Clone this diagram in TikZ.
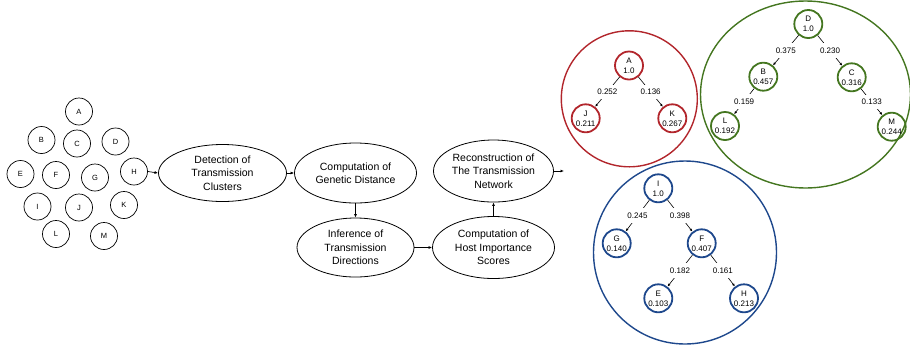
\documentclass[tikz,border=0pt]{standalone}
\usepackage{fontspec}
\setmainfont{Liberation Sans}
\usetikzlibrary{shapes.geometric,arrows.meta,positioning,calc}
\definecolor{clRed}{RGB}{178,38,44}
\definecolor{clGreen}{RGB}{68,118,32}
\definecolor{clBlue}{RGB}{30,72,140}
\tikzset{
	host/.style={draw,circle,line width=0.7pt,minimum size=27pt,inner sep=0pt,font=\fontsize{7.5}{9}\selectfont},
	stage/.style={draw,ellipse,line width=0.8pt,align=center,inner sep=0pt,font=\fontsize{10.5}{13.5}\selectfont},
	flow/.style={-{Latex[length=3.5pt,width=3pt]},line width=0.7pt},
	score/.style={draw=#1,circle,line width=1.8pt,minimum size=28pt,inner sep=0pt,align=center,font=\fontsize{8}{10}\selectfont},
	cluster/.style={draw=#1,line width=1.4pt,inner sep=0pt},
	dir/.style={-{Latex[length=3pt,width=2.6pt]},line width=0.6pt},
	wt/.style={fill=white,inner xsep=1pt,inner ysep=4.5pt,font=\fontsize{8}{10}\selectfont},
}
\begin{document}
\begin{tikzpicture}[x=1pt,y=-1pt]
	\useasboundingbox (0,0) rectangle (910,349);
	% hosts before clustering
	\node (hA) at (79,111.5) [host] {A};
	\node (hB) at (41.5,140) [host] {B};
	\node (hC) at (77,143.5) [host] {C};
	\node (hD) at (115.5,141.5) [host] {D};
	\node (hE) at (20.5,174) [host] {E};
	\node (hF) at (56,175) [host] {F};
	\node (hG) at (95,177.5) [host] {G};
	\node (hH) at (134,171.5) [host] {H};
	\node (hI) at (37.5,206.5) [host] {I};
	\node (hJ) at (79,207.5) [host] {J};
	\node (hK) at (124,205) [host] {K};
	\node (hL) at (56,234) [host] {L};
	\node (hM) at (104,236) [host] {M};
	
	% pipeline
	\node (detect) at (222.5,173) [stage,minimum width=128pt,minimum height=57pt] {Detection of\\Transmission\\Clusters};
	\node (genDist) at (355.5,173) [stage,minimum width=122pt,minimum height=60pt] {Computation of\\Genetic Distance};
	\node (infer) at (355.5,247.5) [stage,minimum width=117pt,minimum height=59pt] {Inference of\\Transmission\\Directions};
	\node (hostScore) at (493.5,247.5) [stage,minimum width=122pt,minimum height=62pt] {Computation of\\Host Importance\\Scores};
	\node (recon) at (493.5,171) [stage,minimum width=120pt,minimum height=62pt] {Reconstruction of\\The Transmission\\Network};
	\coordinate (out) at (564,171);
	
	\draw[flow] (hH.east) -- (detect.west);
	\draw[flow] (detect.east) -- (genDist.west);
	\draw[flow] (genDist.south) -- (infer.north);
	\draw[flow] (infer.east) -- (hostScore.west);
	\draw[flow] (hostScore.north) -- (recon.south);
	\draw[flow] (recon.east) -- (out);
	
	% clusters
	\node (redCl) at (629.3,98.8) [cluster=clRed,circle,minimum size=136pt] {};
	\node (greenCl) at (805.5,94.5) [cluster=clGreen,ellipse,minimum width=210pt,minimum height=187pt] {};
	\node (blueCl) at (685,252.5) [cluster=clBlue,circle,minimum size=183pt] {};
	
	\node (rA) at (629,65.5) [score=clRed] {A\\1.0};
	\node (rJ) at (585.7,118.3) [score=clRed] {J\\0.211};
	\node (rK) at (672.3,118.3) [score=clRed] {K\\0.267};
	\draw[dir] (rA) -- node[wt] {0.252} (rJ);
	\draw[dir] (rA) -- node[wt] {0.136} (rK);
	
	\node (gD) at (808.3,24) [score=clGreen] {D\\1.0};
	\node (gB) at (763.3,76.7) [score=clGreen] {B\\0.457};
	\node (gC) at (851.7,77.3) [score=clGreen] {C\\0.316};
	\node (gL) at (725,126) [score=clGreen] {L\\0.192};
	\node (gM) at (891.7,126.7) [score=clGreen] {M\\0.244};
	\draw[dir] (gD) -- node[wt] {0.375} (gB);
	\draw[dir] (gD) -- node[wt] {0.230} (gC);
	\draw[dir] (gB) -- node[wt] {0.159} (gL);
	\draw[dir] (gC) -- node[wt] {0.133} (gM);
	
	\node (bI) at (658.3,188.3) [score=clBlue] {I\\1.0};
	\node (bG) at (616.7,243.3) [score=clBlue] {G\\0.140};
	\node (bF) at (701.7,243.3) [score=clBlue] {F\\0.407};
	\node (bE) at (658.3,298.3) [score=clBlue] {E\\0.103};
	\node (bH) at (744,298.3) [score=clBlue] {H\\0.213};
	\draw[dir] (bI) -- node[wt] {0.245} (bG);
	\draw[dir] (bI) -- node[wt] {0.398} (bF);
	\draw[dir] (bF) -- node[wt] {0.182} (bE);
	\draw[dir] (bF) -- node[wt] {0.161} (bH);
\end{tikzpicture}
\end{document}
